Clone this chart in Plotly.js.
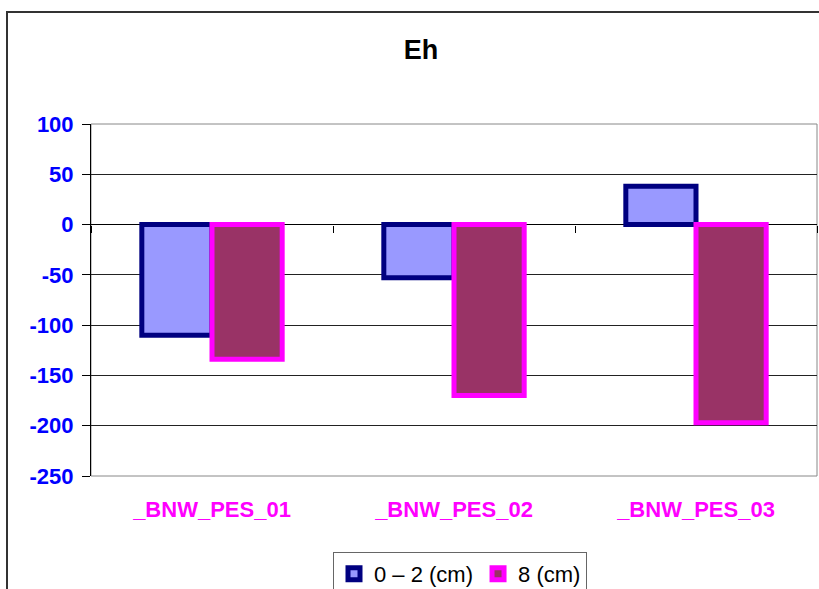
<!DOCTYPE html>
<html>
<head>
<meta charset="utf-8">
<script src="https://cdn.plot.ly/plotly-3.0.1.min.js"></script>
<style>html,body{margin:0;padding:0;background:#fff;}#chart{width:819px;height:589px;}</style>
</head>
<body>
<div id="chart"></div>
<script>
const categories = ["_BNW_PES_01", "_BNW_PES_02", "_BNW_PES_03"];
const seriesNames = ["0 \u2013 2 (cm)", "8 (cm)"];
const shallow = [-110, -53, 38];
const deep = [-134, -170, -197];
const yTicks = [100, 50, 0, -50, -100, -150, -200, -250];

const FONT = "Liberation Sans, Arial, sans-serif";

const traces = [
  {
    type: "bar", name: seriesNames[0], x: categories, y: shallow,
    marker: {color: "#9999FF", line: {color: "#000080", width: 5}},
    hoverinfo: "skip"
  },
  {
    type: "bar", name: seriesNames[1], x: categories, y: deep,
    marker: {color: "#993366", line: {color: "#FF00FF", width: 5}},
    hoverinfo: "skip"
  },
  {
    type: "scatter", mode: "none", x: [-0.5, categories.length - 0.5], y: [0, 0],
    xaxis: "x2", yaxis: "y", showlegend: false, hoverinfo: "skip"
  }
];

const layout = {
  width: 819, height: 589,
  margin: {l: 91, r: 2, t: 124, b: 113, autoexpand: false},
  paper_bgcolor: "#fff", plot_bgcolor: "#fff",
  font: {family: FONT, color: "#000"},
  title: {
    text: "Eh", font: {family: FONT, size: 27, weight: "bold", color: "#000"},
    x: 0.514, xref: "container", xanchor: "center",
    y: 1 - 50/589, yref: "container", yanchor: "middle"
  },
  barmode: "group", bargap: 0.42, bargroupgap: 0,
  xaxis: {
    type: "category", range: [-0.5, 2.5],
    showgrid: false, zeroline: false, showline: false, ticks: "",
    tickfont: {family: FONT, size: 22, weight: "bold", color: "#FF00FF"},
    ticklabelstandoff: 18, fixedrange: true, automargin: false
  },
  xaxis2: {
    overlaying: "x", anchor: "free", position: 250/350,
    range: [-0.5, 2.5], tickvals: [-0.5, 0.5, 1.5, 2.5],
    showticklabels: false, ticks: "outside", ticklen: 7, tickcolor: "#000", tickwidth: 1,
    showgrid: false, zeroline: false, showline: false, fixedrange: true
  },
  yaxis: {
    range: [-250, 100], tickvals: yTicks, ticktext: yTicks.map(String),
    showgrid: true, gridcolor: "#222", gridwidth: 1,
    zeroline: true, zerolinecolor: "#000", zerolinewidth: 1,
    showline: true, linecolor: "#000", linewidth: 1,
    ticks: "outside", ticklen: 8, tickcolor: "#000",
    tickfont: {family: FONT, size: 22, weight: "bold", color: "#0000FF"},
    ticklabelstandoff: 4, fixedrange: true, automargin: false
  },
  showlegend: true,
  legend: {
    orientation: "h", x: 333/819, xref: "container", xanchor: "left",
    y: 1 - 552/589, yref: "container", yanchor: "top",
    bordercolor: "#666", borderwidth: 1, bgcolor: "#fff",
    font: {family: FONT, size: 22, color: "#000"},
    itemwidth: 30, tracegroupgap: 0
  },
  shapes: [
    {type: "rect", xref: "paper", yref: "paper", x0: 0, x1: 1, y0: 0, y1: 1,
     line: {color: "#888", width: 1}, layer: "between"},
    {type: "rect", xref: "paper", yref: "paper", x0: (7-91)/726, x1: 1.2, y0: -0.6, y1: (476-12)/352,
     line: {color: "#333", width: 2}, layer: "below"}
  ]
};

Plotly.newPlot("chart", traces, layout, {displayModeBar: false, staticPlot: true});
</script>
</body>
</html>
